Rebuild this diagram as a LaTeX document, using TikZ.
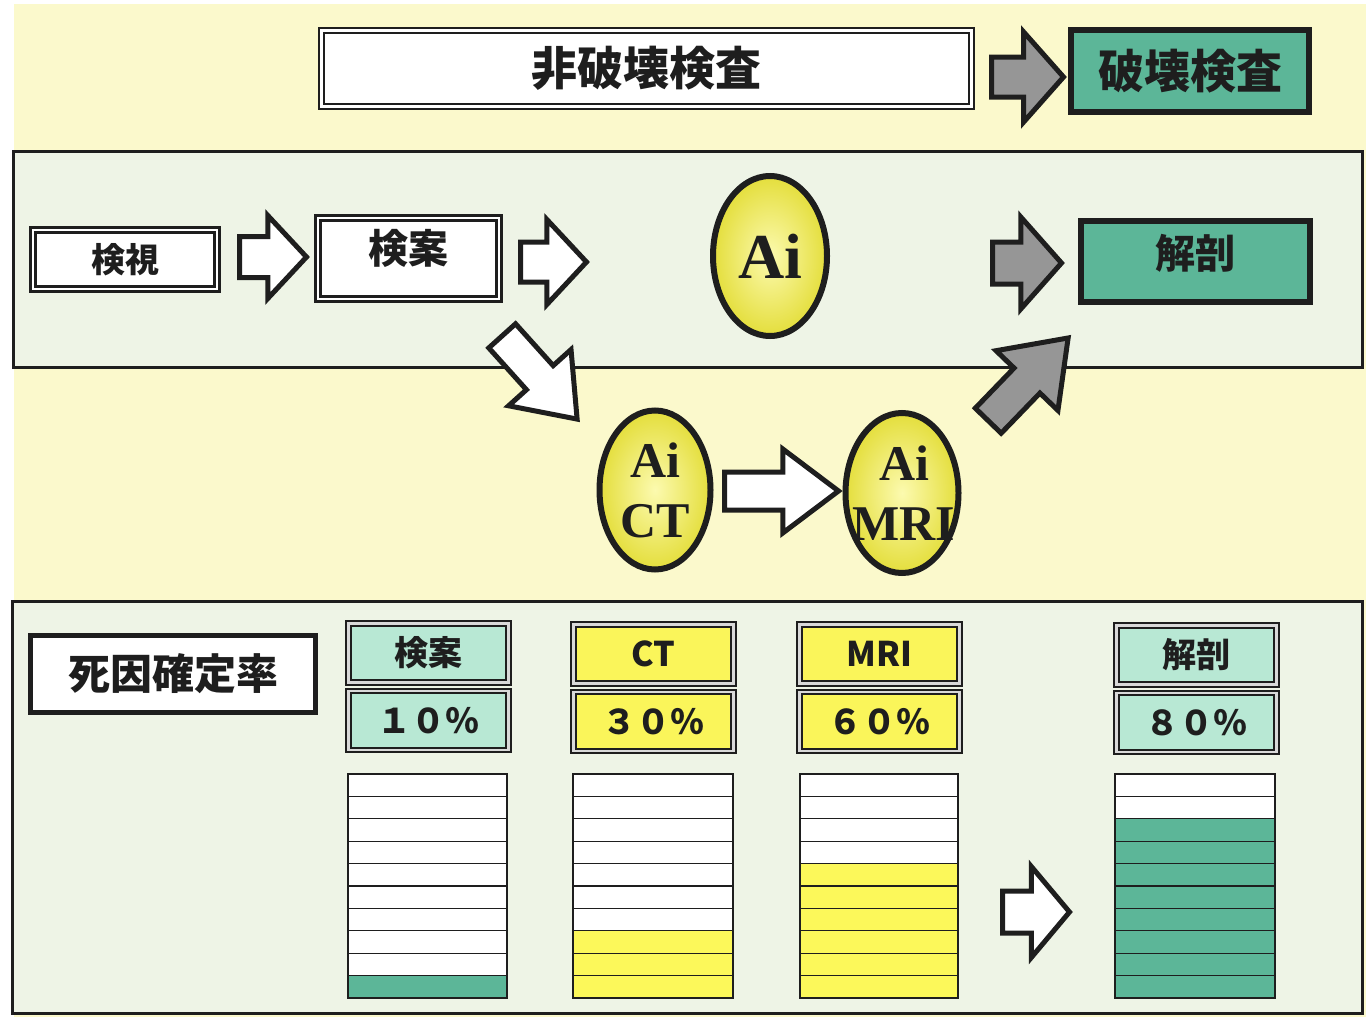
\documentclass[tikz,border=0pt]{standalone}
\usepackage{fontspec}
\setmainfont{Liberation Serif}
\newfontfamily\cjk{Noto Sans CJK JP}
\usetikzlibrary{shapes.geometric,shapes.arrows}
\definecolor{bgyellow}{RGB}{251,249,204}
\definecolor{panel}{RGB}{238,244,230}
\definecolor{tealbox}{RGB}{92,182,152}
\definecolor{lightteal}{RGB}{184,232,212}
\definecolor{yellowbox}{RGB}{250,245,90}
\definecolor{yellowbar}{RGB}{252,248,90}
\definecolor{arrowgray}{RGB}{150,150,150}
\definecolor{ink}{RGB}{30,30,30}
\begin{document}
\begin{tikzpicture}[x=1pt,y=-1pt,
  dblbox/.style={draw=ink, line width=2.4pt, double=white, double distance=2.4pt, fill=white, inner sep=0pt, text=ink},
  tealstrong/.style={draw=ink, line width=6pt, fill=tealbox, inner sep=0pt, text=ink},
  lab/.style={draw=ink, line width=2pt, double=gray!30, double distance=2.4pt, inner sep=0pt, minimum width=160, text=ink},
  cjkL/.style={font=\cjk\bfseries\fontsize{46}{50}\selectfont},
  cjkM/.style={font=\cjk\bfseries\fontsize{40}{44}\selectfont},
  cjkS/.style={font=\cjk\bfseries\fontsize{34}{38}\selectfont},
  aiell/.style={ellipse, draw=ink, line width=6pt, inner sep=0pt, shade, inner color={rgb,255:red,252;green,250;blue,175}, outer color={rgb,255:red,228;green,222;blue,60}},
  aitext/.style={text=ink, align=center, inner sep=0pt},
  wa/.style={single arrow, draw=ink, line width=5pt, fill=white, inner xsep=0pt, anchor=tail},
  ga/.style={wa, fill=arrowgray},
  barline/.style={draw=ink, line width=1.3pt}
]
\useasboundingbox (0,0) rectangle (1366,1017);
\fill[white] (0,0) rectangle (1366,1017);
\fill[bgyellow] (14,4) rectangle (1366,1017);
% panels
\draw[ink, line width=3pt, fill=panel] (13,151) rectangle (1362,367);
\draw[ink, line width=3pt, fill=panel] (12,601) rectangle (1362,1013);

% top row
\node[dblbox, cjkL, minimum width=650, minimum height=76] (ndt) at (646.5,68.5) {非破壊検査};
\node[tealstrong, cjkL, minimum width=238, minimum height=82] (dt) at (1190,71) {破壊検査};
\node[ga, minimum height=72, minimum width=85, inner ysep=17.5, single arrow head extend=25, single arrow tip angle=97] (a3) at (989,77) {};

% middle row
\node[dblbox, cjkS, minimum width=184, minimum height=59] (kenshi) at (125,259.5) {検視};
\node[dblbox, cjkM, minimum width=181, minimum height=81, text depth=24pt] (kenan) at (408.5,258.5) {検案};
\node[aiell, minimum width=114, minimum height=160] (ai) at (770,256) {};
\node[aitext, font=\bfseries\fontsize{64}{70}\selectfont] (aiT) at (ai.center) {Ai};
\node[tealstrong, cjkM, minimum width=229, minimum height=81, text depth=20pt] (kaibo) at (1195.5,261.5) {解剖};
\node[wa, minimum height=67, minimum width=78, inner ysep=18, single arrow head extend=21, single arrow tip angle=94] (a1) at (237,257) {};
\node[wa, minimum height=66, minimum width=80, inner ysep=17.5, single arrow head extend=22.5, single arrow tip angle=94] (a2) at (518,262) {};
\node[ga, minimum height=69, minimum width=87, inner ysep=18.5, single arrow head extend=25, single arrow tip angle=97] (a4) at (990,263) {};

% lower row
\node[aiell, minimum width=111, minimum height=159] (aict) at (655,490) {};
\node[aitext, font=\bfseries\fontsize{50}{60}\selectfont] (aictT) at (aict.center) {Ai\\CT};
\node[aiell, minimum width=113, minimum height=160] (aimri) at (902,493) {};
\node[aitext, font=\bfseries\fontsize{50}{60}\selectfont] (aimriT) at ([xshift=2pt]aimri.center) {Ai\\MRI};
\node[wa, rotate=-48, minimum height=112, minimum width=79, inner ysep=15.5, single arrow head extend=24, single arrow tip angle=74] (a5) at (500.5,334) {};
\node[ga, rotate=46, minimum height=115, minimum width=81, inner ysep=15.5, single arrow head extend=25, single arrow tip angle=72] (a6) at (986.5,422.5) {};
\node[wa, minimum height=114, minimum width=79, inner ysep=16.5, single arrow head extend=23, single arrow tip angle=74] (a7) at (722,491) {};

% bottom panel
\node[draw=ink, line width=5pt, fill=white, inner sep=0pt, text=ink, font=\cjk\bfseries\fontsize{42}{46}\selectfont, minimum width=285, minimum height=77] (rate) at (173,674) {死因確定率};

\node[lab, fill=lightteal, minimum height=59, cjkS] (h1) at (428.5,653) {検案};
\node[lab, fill=lightteal, minimum height=59, cjkS] (v1) at (428.5,720.5) {１０％};
\node[lab, fill=yellowbox, minimum height=59, cjkS] (h2) at (653.5,654) {CT};
\node[lab, fill=yellowbox, minimum height=59, cjkS] (v2) at (653.5,721.5) {３０％};
\node[lab, fill=yellowbox, minimum height=59, cjkS] (h3) at (879.5,654) {MRI};
\node[lab, fill=yellowbox, minimum height=59, cjkS] (v3) at (879.5,721.5) {６０％};
\node[lab, fill=lightteal, minimum height=59, cjkS] (h4) at (1196.5,655) {解剖};
\node[lab, fill=lightteal, minimum height=59, cjkS] (v4) at (1196.5,722.5) {８０％};

\node[wa, minimum height=67, minimum width=86, inner ysep=18.5, single arrow head extend=24.5, single arrow tip angle=100] (a8) at (1000,912) {};

% bars
\foreach \xa/\xb/\n/\col in {348/507/1/tealbox, 573/733/3/yellowbar, 800/958/6/yellowbar, 1115/1275/8/tealbox}{
  \fill[white] (\xa,774) rectangle (\xb,998);
  \fill[fill=\col] (\xa,998-22.4*\n) rectangle (\xb,998);
  \foreach \k in {1,...,9}{
    \draw[barline] (\xa,774+22.4*\k) -- (\xb,774+22.4*\k);
  }
  \draw[barline] (\xa,774) rectangle (\xb,998);
}
\end{tikzpicture}
\end{document}
